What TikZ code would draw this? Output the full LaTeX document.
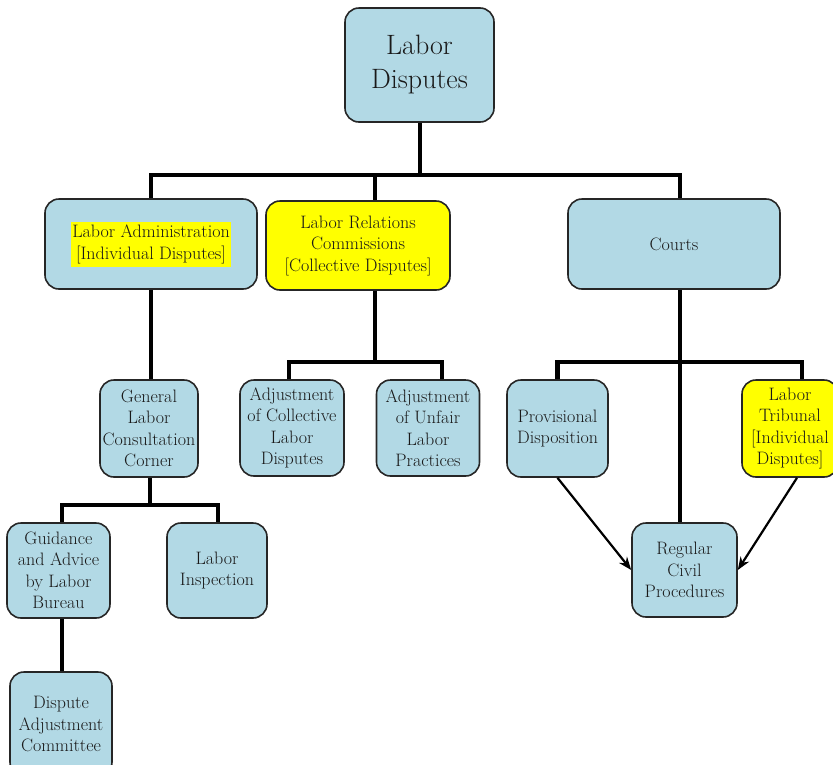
\documentclass[tikz,border=0pt]{standalone}
\usepackage{tikz}
\usetikzlibrary{arrows.meta}
\definecolor{boxblue}{RGB}{178,217,229}
\definecolor{hiyellow}{RGB}{255,255,0}

\begin{document}
\begin{tikzpicture}[x=1pt, y=-1pt,
    box/.style={draw=black!85, line width=1.6pt, rounded corners=14pt, fill=boxblue,
                align=center, inner sep=0pt, text=black!90,
                font=\fontsize{18}{21.5}\selectfont},
    yellowbox/.style={box, fill=hiyellow},
    link/.style={line width=4.5pt},
    arr/.style={line width=2.2pt, -{Stealth[length=13pt, width=10pt]}}]
            \useasboundingbox (0,0) rectangle (833,764);
            \node[box, minimum width=149pt, minimum height=114pt, font=\fontsize{28}{34}\selectfont]
                (disp) at (419.5,65) {Labor\\Disputes};
            \node[box, minimum width=212pt, minimum height=90pt]
                (admin) at (151,244) {\setlength{\fboxsep}{1pt}\colorbox{hiyellow}{\begin{tabular}{@{}c@{}}Labor Administration\\{[}Individual Disputes{]}\end{tabular}}};
            \node[yellowbox, minimum width=184pt, minimum height=89pt]
                (lrc) at (358,245.5) {Labor Relations\\Commissions\\{[}Collective Disputes{]}};
            \node[box, minimum width=212pt, minimum height=90pt]
                (courts) at (674,244) {Courts};
            \node[box, minimum width=98pt, minimum height=97pt]
                (gen) at (149,428.5) {General\\Labor\\Consultation\\Corner};
            \node[box, minimum width=104pt, minimum height=96pt]
                (col) at (292,428) {Adjustment\\of Collective\\Labor\\Disputes};
            \node[box, minimum width=103pt, minimum height=96pt]
                (unf) at (428,428) {Adjustment\\of Unfair\\Labor\\Practices};
            \node[box, minimum width=103pt, minimum height=95pt]
                (guid) at (58.5,570.5) {Guidance\\and Advice\\by Labor\\Bureau};
            \node[box, minimum width=100pt, minimum height=95pt]
                (insp) at (217,570.5) {Labor\\Inspection};
            \node[box, minimum width=102pt, minimum height=104pt]
                (comm) at (61,724) {Dispute\\Adjustment\\Committee};
            \node[box, minimum width=101pt, minimum height=97pt]
                (prov) at (557.5,428.5) {Provisional\\Disposition};
            \node[yellowbox, minimum width=96pt, minimum height=97pt]
                (trib) at (790,428.5) {Labor\\Tribunal\\{[}Individual\\Disputes{]}};
            \node[box, minimum width=105pt, minimum height=94pt]
                (civil) at (684.5,570) {Regular\\Civil\\Procedures};

            \coordinate (j0) at (420,175);
            \coordinate (j1) at (150,505);
            \coordinate (j2) at (375,362);
            \coordinate (j3) at (680,362);

            \draw[link] (disp.south -| j0) -- (j0);
            \draw[link] (admin.north) |- (j0) -| ([xshift=6pt]courts.north);
            \draw[link] (j0) -| ([xshift=17pt]lrc.north);
            \draw[link] (admin.south) -- (admin.south |- gen.north);
            \draw[link] (gen.south -| j1) -- (j1);
            \draw[link] ([xshift=3.5pt]guid.north) |- (j1) -| ([xshift=1pt]insp.north);
            \draw[link] ([xshift=3.5pt]guid.south) -- ([xshift=3.5pt]guid.south |- comm.north);
            \draw[link] (lrc.south -| j2) -- (j2);
            \draw[link] ([xshift=-3pt]col.north) |- (j2) -| ([xshift=14pt]unf.north);
            \draw[link] (courts.south -| j3) -- (j3 |- civil.north);
            \draw[link] (prov.north) |- (j3) -| ([xshift=12pt]trib.north);
            \draw[arr] (prov.south) -- (civil.west);
            \draw[arr] ([xshift=7pt]trib.south) -- (civil.east);
        \end{tikzpicture}
\end{document}
